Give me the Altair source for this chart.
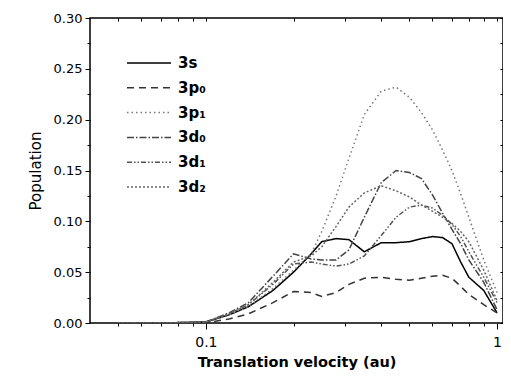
import altair as alt
import pandas as pd

velocity = [0.05, 0.07, 0.1, 0.12, 0.14, 0.17, 0.2, 0.23, 0.25, 0.28, 0.31, 0.35,
            0.4, 0.45, 0.5, 0.55, 0.6, 0.65, 0.7, 0.75, 0.8, 0.9, 1.0]

pop_3s  = [0.000, 0.000, 0.001, 0.008, 0.016, 0.032, 0.050, 0.068, 0.080, 0.083, 0.082, 0.070,
           0.079, 0.079, 0.080, 0.083, 0.085, 0.084, 0.078, 0.060, 0.045, 0.032, 0.010]
pop_3p0 = [0.000, 0.000, 0.000, 0.004, 0.009, 0.020, 0.031, 0.030, 0.026, 0.030, 0.038, 0.044,
           0.045, 0.043, 0.042, 0.044, 0.046, 0.047, 0.044, 0.036, 0.028, 0.018, 0.010]
pop_3p1 = [0.000, 0.000, 0.001, 0.008, 0.016, 0.034, 0.052, 0.068, 0.090, 0.125, 0.162, 0.205,
           0.228, 0.232, 0.222, 0.207, 0.190, 0.170, 0.150, 0.127, 0.104, 0.062, 0.030]
pop_3d0 = [0.000, 0.000, 0.001, 0.010, 0.020, 0.046, 0.068, 0.063, 0.062, 0.062, 0.072, 0.104,
           0.138, 0.150, 0.148, 0.142, 0.126, 0.108, 0.092, 0.078, 0.062, 0.040, 0.013]
pop_3d1 = [0.000, 0.000, 0.001, 0.009, 0.018, 0.038, 0.058, 0.060, 0.058, 0.056, 0.058, 0.066,
           0.086, 0.104, 0.114, 0.116, 0.113, 0.106, 0.097, 0.085, 0.070, 0.045, 0.020]
pop_3d2 = [0.000, 0.000, 0.001, 0.009, 0.018, 0.040, 0.060, 0.066, 0.075, 0.095, 0.114, 0.128,
           0.135, 0.130, 0.124, 0.116, 0.110, 0.104, 0.098, 0.090, 0.080, 0.052, 0.022]

series_names = ["3s", "3p₀", "3p₁", "3d₀", "3d₁", "3d₂"]
series_values = [pop_3s, pop_3p0, pop_3p1, pop_3d0, pop_3d1, pop_3d2]
series_dash = [[1, 0], [7, 5], [1.5, 3], [7, 2, 1.5, 2], [5, 2, 1.5, 2, 1.5, 2], [2, 2]]
series_color = ["#000000", "#333333", "#777777", "#444444", "#555555", "#666666"]

y_major = [0.0, 0.05, 0.10, 0.15, 0.20, 0.25, 0.30]
y_minor = [0.025, 0.075, 0.125, 0.175, 0.225, 0.275]
x_major = [0.1, 1.0]
x_minor = [0.05, 0.06, 0.07, 0.08, 0.09, 0.2, 0.3, 0.4, 0.5, 0.6, 0.7, 0.8, 0.9]

rows = []
for name, vals in zip(series_names, series_values):
    for v, p in zip(velocity, vals):
        rows.append({"series": name, "velocity": v, "population": p})
df = pd.DataFrame(rows)

FONT = "DejaVu Sans"

xscale = alt.Scale(type="log", domain=[0.04, 1.048], nice=False)
yscale = alt.Scale(domain=[0, 0.30], nice=False)

legend = alt.Legend(title=None, orient="none", legendX=47, legendY=33,
                    symbolType="M-2,0L2,0", symbolSize=484, symbolStrokeWidth=1.5,
                    labelFont=FONT, labelFontSize=15, labelFontWeight="bold",
                    labelColor="#000", rowPadding=4.8, labelOffset=17)

lines = alt.Chart(df).mark_line(strokeWidth=1.5, clip=True).encode(
    x=alt.X("velocity:Q", scale=xscale,
            axis=alt.Axis(values=x_major, format="~g", tickSize=6, labelFontSize=14,
                          labelPadding=6, labelFont=FONT, labelColor="#000",
                          title="Translation velocity (au)", titleFont=FONT,
                          titleFontSize=14.5, titleFontWeight="bold", titlePadding=6,
                          titleColor="#000", grid=False, domain=False, tickColor="#000")),
    y=alt.Y("population:Q", scale=yscale,
            axis=alt.Axis(values=y_major, format=".2f", tickSize=5, labelFontSize=13,
                          labelPadding=3, labelFont=FONT, labelColor="#000",
                          title="Population", titleFont=FONT, titleFontSize=15,
                          titleFontWeight="normal", titlePadding=10, titleColor="#000",
                          grid=False, domain=False, tickColor="#000")),
    strokeDash=alt.StrokeDash("series:N",
        scale=alt.Scale(domain=series_names, range=series_dash), legend=legend),
    color=alt.Color("series:N", scale=alt.Scale(domain=series_names, range=series_color),
                    legend=legend),
)

minor = alt.Chart(df).mark_point(opacity=0).encode(
    x=alt.X("velocity:Q", scale=xscale,
            axis=alt.Axis(values=x_minor, orient="bottom", labels=False, tickSize=3,
                          title=None, grid=False, domain=False, tickColor="#000")),
    y=alt.Y("population:Q", scale=yscale,
            axis=alt.Axis(values=y_minor, orient="left", labels=False, tickSize=3,
                          title=None, grid=False, domain=False, tickColor="#000")),
)

inner = alt.Chart(df).mark_point(opacity=0).encode(
    x=alt.X("velocity:Q", scale=xscale,
            axis=alt.Axis(values=x_major + x_minor, orient="top", labels=False, tickSize=3,
                          offset=-3, title=None, grid=False, domain=False, tickColor="#000")),
    y=alt.Y("population:Q", scale=yscale,
            axis=alt.Axis(values=y_major + y_minor, orient="right", labels=False, tickSize=3,
                          offset=-3, title=None, grid=False, domain=False, tickColor="#000")),
)

chart = alt.layer(lines, minor, inner).resolve_axis(x="independent", y="independent").properties(
    width=413, height=305,
    autosize=alt.AutoSizeParams(type="none"),
    padding={"left": 82, "top": 10, "right": 0, "bottom": 48},
    background="white",
).configure_view(stroke="#000", strokeWidth=1.5)

chart.save("out.html", embed_options={"renderer": "svg", "actions": False})
